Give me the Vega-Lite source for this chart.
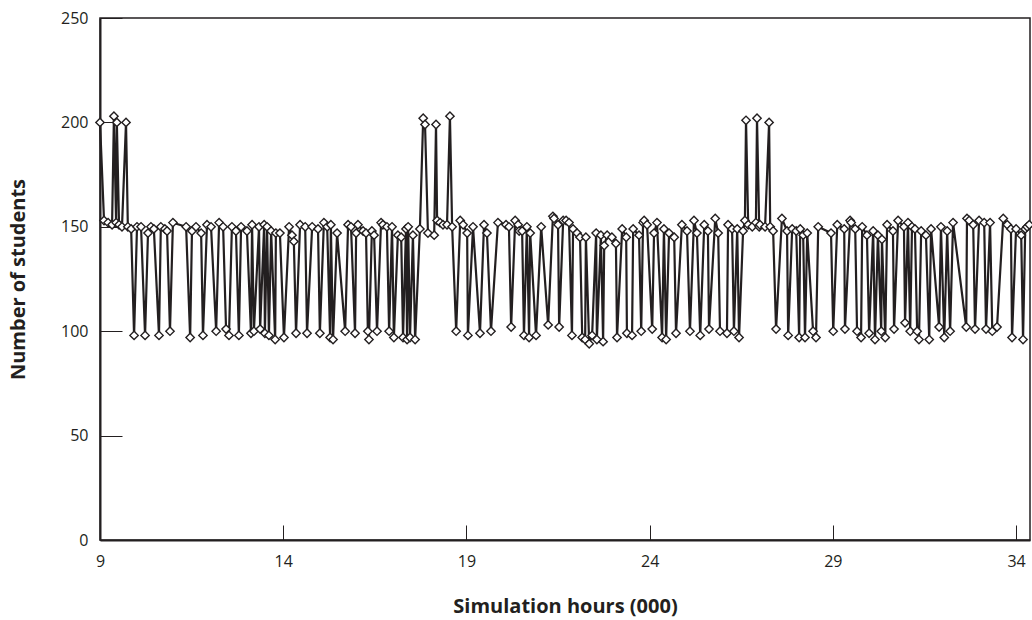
{
  "$schema": "https://vega.github.io/schema/vega-lite/v6.json",
  "width": 930,
  "height": 522,
  "autosize": {"type": "none"},
  "padding": {"left": 100, "top": 18, "right": 2, "bottom": 80},
  "background": "white",
  "config": {
    "view": {"stroke": "#231f20", "strokeWidth": 1.5},
    "font": "Open Sans",
    "axis": {
      "grid": false,
      "domainColor": "#231f20",
      "domainWidth": 2,
      "tickColor": "#231f20",
      "tickWidth": 1,
      "labelFont": "Open Sans",
      "labelFontSize": 16,
      "labelColor": "#231f20",
      "labelFlush": false,
      "titleFont": "Open Sans",
      "titleFontSize": 20,
      "titleFontWeight": "bold",
      "titleColor": "#231f20"
    }
  },
  "data": {"values": [
    {"h":9.00,"n":200},{"h":9.11,"n":153},{"h":9.22,"n":152},{"h":9.33,"n":151},{"h":9.38,"n":203},{"h":9.44,"n":152},{"h":9.46,"n":200},{"h":9.52,"n":151},{"h":9.60,"n":150},{"h":9.71,"n":200},{"h":9.76,"n":150},{"h":9.85,"n":149},{"h":9.93,"n":98},{"h":10.01,"n":150},{"h":10.12,"n":150},{"h":10.23,"n":98},{"h":10.31,"n":147},{"h":10.39,"n":150},{"h":10.47,"n":149},{"h":10.61,"n":98},{"h":10.66,"n":150},{"h":10.77,"n":149},{"h":10.83,"n":148},{"h":10.91,"n":100},{"h":10.99,"n":152},
    {"h":11.35,"n":150},{"h":11.46,"n":97},{"h":11.51,"n":148},{"h":11.62,"n":150},{"h":11.76,"n":147},{"h":11.81,"n":98},{"h":11.92,"n":151},{"h":12.03,"n":150},{"h":12.17,"n":100},{"h":12.25,"n":152},{"h":12.36,"n":150},{"h":12.44,"n":101},{"h":12.52,"n":98},{"h":12.60,"n":150},{"h":12.71,"n":148},{"h":12.79,"n":98},{"h":12.85,"n":150},{"h":13.01,"n":148},{"h":13.12,"n":99},{"h":13.15,"n":151},
    {"h":13.20,"n":100},{"h":13.34,"n":150},{"h":13.37,"n":101},{"h":13.48,"n":151},{"h":13.50,"n":99},{"h":13.56,"n":150},{"h":13.61,"n":98},{"h":13.67,"n":148},{"h":13.78,"n":96},{"h":13.80,"n":147},{"h":13.91,"n":147},{"h":14.02,"n":97},{"h":14.16,"n":150},{"h":14.24,"n":146},{"h":14.29,"n":143},{"h":14.35,"n":99},{"h":14.46,"n":151},{"h":14.60,"n":150},{"h":14.65,"n":99},{"h":14.79,"n":150},{"h":14.95,"n":149},{"h":15.00,"n":99},{"h":15.11,"n":152},{"h":15.20,"n":150},{"h":15.28,"n":97},{"h":15.30,"n":151},
    {"h":15.36,"n":96},{"h":15.47,"n":147},{"h":15.69,"n":100},{"h":15.77,"n":151},{"h":15.85,"n":150},{"h":15.96,"n":99},{"h":15.99,"n":147},{"h":16.04,"n":151},{"h":16.18,"n":148},{"h":16.26,"n":147},{"h":16.31,"n":100},{"h":16.34,"n":96},{"h":16.42,"n":148},{"h":16.48,"n":146},{"h":16.56,"n":100},{"h":16.67,"n":152},{"h":16.72,"n":151},{"h":16.83,"n":150},{"h":16.89,"n":100},{"h":16.97,"n":150},{"h":17.02,"n":97},{"h":17.13,"n":146},{"h":17.22,"n":145},{"h":17.27,"n":97},{"h":17.35,"n":149},{"h":17.38,"n":96},
    {"h":17.41,"n":150},{"h":17.46,"n":97},{"h":17.54,"n":146},{"h":17.60,"n":96},{"h":17.73,"n":149},{"h":17.82,"n":202},{"h":17.87,"n":199},{"h":17.95,"n":147},{"h":18.12,"n":146},{"h":18.17,"n":199},{"h":18.20,"n":153},{"h":18.28,"n":152},{"h":18.36,"n":151},{"h":18.47,"n":151},{"h":18.55,"n":203},{"h":18.61,"n":150},{"h":18.72,"n":100},{"h":18.83,"n":153},{"h":18.91,"n":151},{"h":19.02,"n":147},{"h":19.04,"n":98},{"h":19.18,"n":150},{"h":19.37,"n":99},{"h":19.48,"n":151},{"h":19.56,"n":147},
    {"h":19.67,"n":100},{"h":19.86,"n":152},{"h":20.08,"n":151},{"h":20.16,"n":150},{"h":20.22,"n":102},{"h":20.33,"n":153},{"h":20.41,"n":151},{"h":20.44,"n":148},{"h":20.52,"n":148},{"h":20.57,"n":98},{"h":20.65,"n":150},{"h":20.71,"n":97},{"h":20.74,"n":147},{"h":20.90,"n":98},{"h":21.04,"n":150},{"h":21.23,"n":103},{"h":21.36,"n":155},{"h":21.39,"n":154},{"h":21.50,"n":151},{"h":21.53,"n":102},{"h":21.64,"n":153},
    {"h":21.72,"n":153},{"h":21.80,"n":152},{"h":21.88,"n":98},{"h":21.91,"n":149},{"h":22.02,"n":147},{"h":22.10,"n":145},{"h":22.16,"n":97},{"h":22.24,"n":96},{"h":22.26,"n":145},{"h":22.35,"n":94},{"h":22.43,"n":98},{"h":22.54,"n":147},{"h":22.56,"n":96},{"h":22.67,"n":146},{"h":22.73,"n":95},{"h":22.76,"n":141},{"h":22.84,"n":146},{"h":22.97,"n":145},{"h":23.08,"n":142},{"h":23.11,"n":97},{"h":23.25,"n":149},{"h":23.36,"n":145},{"h":23.38,"n":99},{"h":23.52,"n":98},{"h":23.55,"n":149},{"h":23.71,"n":146},{"h":23.77,"n":100},{"h":23.82,"n":152},
    {"h":23.85,"n":153},{"h":23.93,"n":151},{"h":24.07,"n":101},{"h":24.12,"n":147},{"h":24.20,"n":152},{"h":24.34,"n":97},{"h":24.39,"n":149},{"h":24.45,"n":96},{"h":24.53,"n":147},{"h":24.67,"n":145},{"h":24.72,"n":99},{"h":24.88,"n":151},{"h":25.02,"n":148},{"h":25.10,"n":100},{"h":25.21,"n":153},{"h":25.29,"n":147},{"h":25.38,"n":98},{"h":25.49,"n":151},{"h":25.59,"n":148},{"h":25.62,"n":101},{"h":25.79,"n":154},{"h":25.87,"n":147},{"h":25.92,"n":100},
    {"h":26.11,"n":99},{"h":26.14,"n":151},{"h":26.25,"n":149},{"h":26.30,"n":100},{"h":26.39,"n":149},{"h":26.44,"n":97},{"h":26.55,"n":148},{"h":26.60,"n":153},{"h":26.63,"n":201},{"h":26.69,"n":151},{"h":26.80,"n":150},{"h":26.90,"n":152},{"h":26.93,"n":202},{"h":26.99,"n":150},{"h":27.01,"n":151},{"h":27.15,"n":150},{"h":27.26,"n":200},{"h":27.29,"n":150},{"h":27.37,"n":148},{"h":27.45,"n":101},{"h":27.61,"n":154},{"h":27.75,"n":148},{"h":27.78,"n":98},{"h":27.89,"n":149},{"h":28.00,"n":148},{"h":28.08,"n":97},
    {"h":28.11,"n":149},{"h":28.19,"n":146},{"h":28.24,"n":97},{"h":28.30,"n":147},{"h":28.46,"n":100},{"h":28.54,"n":97},{"h":28.60,"n":150},{"h":28.95,"n":147},{"h":29.01,"n":100},{"h":29.12,"n":151},{"h":29.31,"n":149},{"h":29.33,"n":101},{"h":29.47,"n":153},{"h":29.50,"n":152},{"h":29.61,"n":149},{"h":29.66,"n":100},{"h":29.77,"n":97},{"h":29.80,"n":150},{"h":29.93,"n":146},{"h":29.99,"n":99},{"h":30.10,"n":148},{"h":30.15,"n":96},
    {"h":30.23,"n":146},{"h":30.32,"n":100},{"h":30.34,"n":144},{"h":30.43,"n":97},{"h":30.48,"n":151},{"h":30.64,"n":148},{"h":30.67,"n":101},{"h":30.78,"n":153},{"h":30.94,"n":150},{"h":30.97,"n":104},{"h":31.05,"n":152},{"h":31.11,"n":100},{"h":31.16,"n":150},{"h":31.24,"n":149},{"h":31.30,"n":100},{"h":31.35,"n":96},{"h":31.41,"n":148},{"h":31.54,"n":146},{"h":31.63,"n":96},{"h":31.68,"n":149},{"h":31.90,"n":102},{"h":31.95,"n":150},{"h":32.04,"n":97},{"h":32.12,"n":148},{"h":32.20,"n":100},{"h":32.28,"n":152},
    {"h":32.64,"n":102},{"h":32.66,"n":154},{"h":32.72,"n":153},{"h":32.83,"n":151},{"h":32.88,"n":101},{"h":32.99,"n":153},{"h":33.13,"n":152},{"h":33.18,"n":101},{"h":33.29,"n":152},{"h":33.35,"n":100},{"h":33.48,"n":102},{"h":33.65,"n":154},{"h":33.76,"n":151},{"h":33.86,"n":149},{"h":33.89,"n":97},{"h":34.00,"n":149},{"h":34.14,"n":146},{"h":34.19,"n":96},{"h":34.25,"n":149},{"h":34.30,"n":150},{"h":34.36,"n":151}
  ]},
  "encoding": {
    "x": {
      "field": "h", "type": "quantitative",
      "scale": {"domain": [9, 34.38], "nice": false, "zero": false},
      "axis": {
        "title": "Simulation hours (000)",
        "values": [9, 14, 19, 24, 29, 34],
        "tickSize": -15,
        "labelPadding": 28,
        "titlePadding": 27
      }
    },
    "y": {
      "field": "n", "type": "quantitative",
      "scale": {"domain": [0, 250], "nice": false},
      "axis": {
        "title": "Number of students",
        "values": [0, 50, 100, 150, 200, 250],
        "tickSize": -22,
        "labelPadding": 34,
        "titlePadding": 32
      }
    }
  },
  "layer": [
    {"mark": {"type": "line", "color": "#231f20", "strokeWidth": 2.2}},
    {"mark": {"type": "point", "shape": "diamond", "size": 70, "filled": true, "fill": "white", "stroke": "#231f20", "strokeWidth": 1.4, "opacity": 1}}
  ]
}
